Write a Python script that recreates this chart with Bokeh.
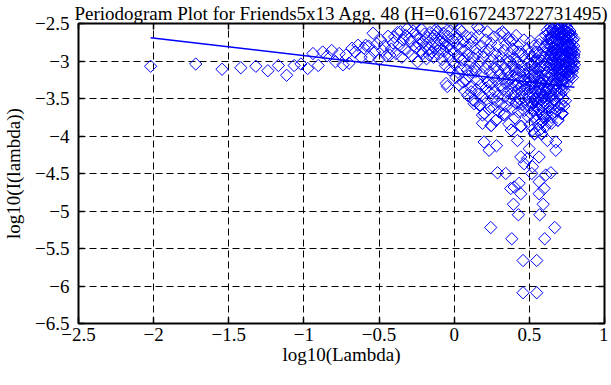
import math
from bokeh.plotting import figure
from bokeh.models import Range1d, FixedTicker, LinearAxis
from bokeh.embed import file_html
from bokeh.resources import INLINE

title_text = "Periodogram Plot for Friends5x13 Agg. 48 (H=0.6167243722731495)"
x_label = "log10(Lambda)"
y_label = "log10(I(lambda))"

x_ticks = [-2.5, -2, -1.5, -1, -0.5, 0, 0.5, 1]
x_tick_labels = ["\u22122.5", "\u22122", "\u22121.5", "\u22121", "\u22120.5", "0", "0.5", "1"]
y_ticks = [-6.5, -6, -5.5, -5, -4.5, -4, -3.5, -3, -2.5]
y_tick_labels = ["\u22126.5", "\u22126", "\u22125.5", "\u22125", "\u22124.5", "\u22124", "\u22123.5", "\u22123", "\u22122.5"]

# low frequencies (sparse part, x < 0)
low_x = [-2.02, -1.72, -1.545, -1.42, -1.32, -1.24, -1.17, -1.115, -1.065, -1.02,
         -0.975, -0.94, -0.905, -0.875, -0.845, -0.815, -0.79, -0.765, -0.74, -0.72,
         -0.70, -0.68, -0.66, -0.64, -0.62, -0.60, -0.589,
         -0.57, -0.56, -0.54, -0.53, -0.515, -0.50, -0.49, -0.476, -0.464, -0.452,
         -0.44, -0.429, -0.418, -0.407, -0.397, -0.387, -0.377, -0.367, -0.358, -0.349,
         -0.339, -0.331, -0.322, -0.313, -0.305, -0.297, -0.289, -0.281, -0.273, -0.266,
         -0.258, -0.251, -0.244, -0.237, -0.23, -0.223, -0.216, -0.209, -0.203, -0.197,
         -0.19, -0.184, -0.178, -0.172, -0.166, -0.16, -0.154, -0.149, -0.143, -0.137,
         -0.132, -0.127, -0.121, -0.116, -0.111, -0.106, -0.101, -0.096, -0.091, -0.086,
         -0.081, -0.077, -0.072, -0.068, -0.063, -0.059, -0.054, -0.05, -0.046, -0.041,
         -0.037, -0.033, -0.029, -0.025, -0.021, -0.017, -0.013, -0.009]
low_y = [-3.07, -3.04, -3.11, -3.09, -3.07, -3.13, -3.06, -3.19, -3.06, -3.04,
         -3.10, -2.90, -3.06, -2.88, -2.93, -2.86, -3.01, -2.90, -3.05, -2.92,
         -3.03, -2.83, -2.88, -2.79, -2.95, -2.83, -2.79,
         -2.80, -2.95, -2.63, -2.88, -2.77, -2.98, -2.72, -2.86, -2.80, -2.93,
         -2.67, -2.92, -2.84, -2.76, -2.68, -2.90, -2.62, -2.79, -2.61, -2.95,
         -2.72, -2.84, -2.66, -2.57, -2.88, -2.70, -2.74, -2.93, -2.60, -2.50,
         -2.82, -2.66, -3.01, -2.77, -2.70, -2.86, -2.58, -2.90, -2.74, -2.64,
         -2.81, -2.97, -2.69, -2.85, -2.92, -2.62, -2.78, -2.88, -2.70, -2.95,
         -2.66, -2.83, -2.58, -2.76, -2.61, -2.91, -2.72, -2.84, -2.52, -2.69,
         -2.98, -2.77, -2.63, -2.87, -2.74, -3.06, -3.30, -2.81, -3.34, -2.67,
         -2.93, -2.79, -3.12, -2.60, -2.85, -3.00, -2.50, -2.72]

# middle frequencies (0 <= x < 0.5)
mid_x = [0.000, 0.004, 0.008, 0.012, 0.017, 0.021, 0.025, 0.029, 0.033, 0.037,
         0.041, 0.045, 0.049, 0.053, 0.057, 0.061, 0.066, 0.070, 0.074, 0.078,
         0.082, 0.086, 0.090, 0.094, 0.098, 0.102, 0.106, 0.110, 0.114, 0.118,
         0.121, 0.125, 0.129, 0.133, 0.137, 0.141, 0.144, 0.148, 0.152, 0.156,
         0.160, 0.163, 0.166, 0.170, 0.174, 0.177, 0.181, 0.185, 0.188, 0.192,
         0.195, 0.199, 0.202, 0.206, 0.210, 0.213, 0.216, 0.220, 0.223, 0.226,
         0.230, 0.233, 0.236, 0.240, 0.243, 0.246, 0.249, 0.253, 0.256, 0.259,
         0.262, 0.265, 0.268, 0.271, 0.274, 0.278, 0.281, 0.284, 0.287, 0.290,
         0.293, 0.296, 0.299, 0.302, 0.305, 0.308, 0.311, 0.314, 0.317, 0.321,
         0.324, 0.327, 0.330, 0.333, 0.336, 0.339, 0.342, 0.345, 0.348, 0.351,
         0.354, 0.357, 0.360, 0.363, 0.366, 0.369, 0.372, 0.376, 0.379, 0.382,
         0.385, 0.388, 0.391, 0.394, 0.397, 0.400, 0.403, 0.406, 0.409, 0.412,
         0.415, 0.418, 0.421, 0.424, 0.427, 0.430, 0.433, 0.436, 0.439, 0.442,
         0.443, 0.446, 0.449, 0.452, 0.455, 0.458, 0.461, 0.464, 0.467, 0.470,
         0.473, 0.476, 0.479, 0.482, 0.485, 0.488, 0.491, 0.494, 0.497,
         0.155, 0.330, 0.388, 0.113, 0.135, 0.168, 0.201, 0.279, 0.335]
mid_y = [-2.88, -3.05, -2.64, -3.22, -2.79, -2.70, -3.15, -2.95, -3.32, -2.58,
         -2.84, -3.10, -2.61, -2.99, -3.28, -2.74, -2.97, -3.40, -2.86, -3.26,
         -2.67, -3.12, -3.46, -2.92, -3.20, -2.78, -3.02, -3.35, -2.69, -3.14,
         -2.74, -3.52, -2.96, -3.57, -3.08, -2.83, -3.14, -3.38, -2.90, -3.25,
         -2.66, -3.44, -2.57, -3.02, -3.59, -3.32, -2.80, -3.18, -3.72, -2.95,
         -3.48, -2.88, -3.70, -3.10, -2.72, -3.36, -3.55, -2.61, -3.04, -3.28,
         -3.64, -2.85, -3.42, -3.15, -2.76, -3.86, -3.30, -2.98, -3.50, -3.22,
         -2.68, -3.62, -3.08, -3.40, -2.90, -3.79, -3.26, -3.54, -2.80, -3.12,
         -3.46, -3.00, -3.68, -2.64, -3.33, -3.18, -2.94, -3.58, -3.05, -2.61,
         -3.38, -3.24, -2.86, -3.72, -3.48, -3.10, -2.78, -3.30, -3.60, -2.98,
         -3.42, -3.16, -2.70, -3.84, -3.26, -3.52, -2.90, -2.74, -3.92, -3.36,
         -3.06, -3.64, -2.84, -3.20, -3.46, -2.96, -3.76, -3.12, -3.32, -2.66,
         -3.56, -3.02, -3.40, -2.88, -3.68, -3.22, -3.50, -2.78, -3.14, -3.87,
         -2.88, -3.34, -3.06, -3.58, -2.92, -3.26, -3.44, -2.72, -3.66, -3.18,
         -3.38, -2.98, -3.52, -3.10, -2.84, -3.30, -3.74, -3.02, -3.46,
         -2.54, -2.63, -2.72, -3.41, -3.53, -3.59, -3.70, -3.79, -3.70]

# high frequencies (dense cluster, x >= 0.5)
high_x = [0.50, 0.50, 0.50, 0.505, 0.505, 0.51, 0.51, 0.51, 0.515, 0.515,
          0.52, 0.52, 0.52, 0.525, 0.525, 0.53, 0.53, 0.53, 0.535, 0.535, 0.535,
          0.54, 0.54, 0.54, 0.545, 0.545, 0.545, 0.55, 0.55, 0.55,
          0.555, 0.555, 0.555, 0.56, 0.56, 0.56, 0.565, 0.565, 0.565,
          0.57, 0.57, 0.57, 0.575, 0.575, 0.575, 0.58, 0.58, 0.58, 0.58,
          0.585, 0.585, 0.585, 0.59, 0.59, 0.59, 0.595, 0.595, 0.595,
          0.60, 0.60, 0.60, 0.605, 0.605, 0.605, 0.61, 0.61, 0.61,
          0.615, 0.615, 0.615, 0.62, 0.62, 0.62, 0.62, 0.625, 0.625, 0.625,
          0.63, 0.63, 0.63, 0.63, 0.635, 0.635, 0.635, 0.64, 0.64, 0.64, 0.64,
          0.645, 0.645, 0.645, 0.65, 0.65, 0.65, 0.65, 0.655, 0.655, 0.655,
          0.66, 0.66, 0.66, 0.66, 0.665, 0.665, 0.665, 0.67, 0.67, 0.67, 0.67,
          0.675, 0.675, 0.675, 0.68, 0.68, 0.68, 0.68, 0.685, 0.685, 0.685,
          0.69, 0.69, 0.69, 0.69, 0.695, 0.695, 0.695, 0.70, 0.70, 0.70, 0.70,
          0.705, 0.705, 0.705, 0.71, 0.71, 0.71, 0.71, 0.715, 0.715, 0.715,
          0.72, 0.72, 0.72, 0.72, 0.725, 0.725, 0.725, 0.73, 0.73, 0.73, 0.73,
          0.735, 0.735, 0.735, 0.74, 0.74, 0.74, 0.74, 0.745, 0.745, 0.745,
          0.75, 0.75, 0.75, 0.75, 0.755, 0.755, 0.755, 0.76, 0.76, 0.76, 0.76,
          0.765, 0.765, 0.765, 0.77, 0.77, 0.77, 0.77, 0.775, 0.775, 0.775,
          0.78, 0.78, 0.78, 0.785, 0.785, 0.785, 0.79, 0.79, 0.79,
          0.795, 0.795, 0.80, 0.80]
high_y = [-3.15, -3.62, -2.90, -3.40, -3.85, -2.74, -3.25, -3.70, -3.05, -3.55,
          -3.30, -3.92, -2.95, -3.48, -3.12, -2.80, -3.66, -3.35, -3.02, -3.97, -3.20,
          -3.50, -2.88, -3.78, -3.28, -3.10, -3.60, -2.98, -3.72, -3.42,
          -2.88, -3.18, -3.55, -3.36, -3.85, -3.00, -3.22, -2.78, -3.64,
          -3.45, -3.08, -3.92, -2.92, -3.30, -3.70, -3.52, -3.15, -3.97, -2.70,
          -3.38, -3.00, -3.80, -2.85, -3.25, -3.60, -3.10, -3.48, -3.75,
          -2.95, -3.35, -3.62, -3.20, -2.80, -3.88, -3.05, -3.42, -2.66,
          -3.28, -3.70, -2.90, -2.59, -3.15, -3.55, -2.75, -3.00, -3.38, -2.85,
          -2.70, -3.22, -3.82, -3.48, -2.62, -2.95, -3.10, -3.30, -2.80, -3.62, -2.55,
          -3.05, -3.45, -2.68, -2.88, -3.18, -2.58, -3.75, -3.35, -2.75, -3.00,
          -2.62, -3.12, -3.52, -2.92, -2.82, -3.25, -2.55, -3.05, -2.70, -3.40, -3.68,
          -2.60, -2.95, -3.18, -2.52, -2.85, -3.30, -3.08, -2.72, -3.00, -3.48,
          -2.58, -2.90, -3.22, -3.79, -2.78, -3.10, -2.65, -2.50, -2.95, -3.35, -3.05,
          -2.68, -2.85, -3.20, -2.55, -3.00, -2.75, -3.58, -2.62, -3.12, -2.90,
          -2.48, -2.80, -3.28, -3.70, -2.70, -2.98, -2.58, -2.47, -2.85, -3.15, -3.39,
          -2.60, -2.92, -3.05, -2.52, -2.75, -3.22, -3.53, -2.66, -3.00, -2.85,
          -2.55, -2.80, -3.10, -3.30, -2.62, -2.95, -2.72, -2.58, -2.88, -3.18, -3.05,
          -2.68, -2.80, -3.00, -2.60, -2.92, -3.12, -2.75, -2.70, -2.85, -3.20,
          -2.65, -2.98, -3.08, -2.78, -2.90, -3.15, -2.72, -3.02, -2.85,
          -2.80, -2.95, -2.88, -3.05]

# more points inside the densest parts of the cloud
dense_x = [0.642, 0.652, 0.662, 0.672, 0.682, 0.692, 0.702, 0.712, 0.722, 0.732, 0.742, 0.752, 0.762, 0.772, 0.782, 0.792,
           0.647, 0.657, 0.667, 0.677, 0.687, 0.697, 0.707, 0.717, 0.727, 0.737, 0.747, 0.757, 0.767, 0.777, 0.787, 0.797,
           0.36, 0.38, 0.40, 0.42, 0.44, 0.46, 0.48, 0.50, 0.52, 0.54, 0.56, 0.58, 0.60,
           0.37, 0.39, 0.41, 0.43, 0.45, 0.47, 0.49, 0.51, 0.53, 0.55, 0.57, 0.59, 0.61]
dense_y = [-2.70, -2.98, -2.64, -3.14, -2.77, -3.02, -2.62, -3.26, -2.92, -2.68, -3.08, -2.88, -3.22, -2.66, -2.84, -3.10,
           -3.20, -2.84, -3.32, -2.90, -3.12, -2.56, -3.16, -2.84, -3.06, -3.24, -2.70, -3.00, -2.63, -3.04, -3.22, -2.92,
           -3.22, -3.44, -3.08, -3.30, -3.52, -3.14, -3.36, -3.24, -3.58, -3.40, -3.12, -3.30, -3.46,
           -3.00, -3.28, -3.56, -3.12, -3.42, -3.26, -3.58, -3.34, -3.18, -3.50, -3.26, -3.06, -3.40]

blob_x = [0.645, 0.655, 0.665, 0.675, 0.685, 0.695, 0.705, 0.715, 0.725, 0.735, 0.745, 0.755, 0.765, 0.775, 0.785, 0.795,
          0.648, 0.658, 0.668, 0.678, 0.688, 0.698, 0.708, 0.718, 0.728, 0.738, 0.748, 0.758, 0.768, 0.778, 0.788,
          0.56, 0.575, 0.59, 0.605, 0.62, 0.635, 0.65, 0.665, 0.68, 0.695, 0.71, 0.725,
          0.565, 0.58, 0.595, 0.61, 0.625, 0.64, 0.655, 0.67, 0.685, 0.70, 0.715, 0.73]
blob_y = [-2.92, -2.60, -3.02, -2.74, -3.26, -2.86, -3.10, -2.70, -3.32, -2.80, -2.60, -3.14, -2.78, -2.96, -3.10, -2.70,
          -2.76, -3.24, -2.86, -3.06, -2.64, -3.20, -2.92, -3.12, -2.64, -2.96, -3.16, -2.78, -3.08, -2.90, -3.00,
          -3.64, -3.42, -3.70, -3.52, -3.36, -3.66, -3.46, -3.58, -3.40, -3.62, -3.44, -3.50,
          -3.34, -3.82, -3.54, -3.76, -3.60, -3.40, -3.70, -3.52, -3.66, -3.46, -3.38, -3.60]

# low-lying outliers
tail_x = [0.199, 0.232, 0.281, 0.421, 0.443, 0.465, 0.487, 0.499, 0.516, 0.521,
          0.565, 0.620, 0.676, 0.676, 0.288, 0.343, 0.643, 0.609, 0.376, 0.399,
          0.432, 0.443, 0.565, 0.598, 0.565, 0.394, 0.427, 0.592, 0.569, 0.243,
          0.383, 0.602, 0.669, 0.458, 0.549, 0.458, 0.549,
          0.188, 0.246, 0.379, 0.447, 0.534, 0.580, 0.647, 0.690, 0.713]
tail_y = [-4.08, -4.19, -4.13, -4.06, -4.28, -4.37, -4.30, -4.17, -4.50, -4.41,
          -4.28, -4.06, -4.08, -4.19, -4.49, -4.50, -4.49, -4.52, -4.70, -4.68,
          -4.63, -4.77, -4.61, -4.70, -4.77, -4.91, -5.05, -4.91, -5.05, -5.22,
          -5.37, -5.37, -5.22, -5.66, -5.66, -6.09, -6.09,
          -3.83, -3.86, -3.92, -3.87, -3.97, -3.97, -3.83, -3.79, -3.70]

# least-squares fit line
fit_x = [-2.02, 0.80]
fit_y = [-2.69, -3.35]

all_x = low_x + mid_x + high_x + dense_x + blob_x + tail_x
all_y = low_y + mid_y + high_y + dense_y + blob_y + tail_y

FONT = "Liberation Serif"

p = figure(frame_width=526, frame_height=300, output_backend="svg", toolbar_location=None,
           x_range=Range1d(-2.5, 1), y_range=Range1d(-6.5, -2.5),
           min_border_left=73, min_border_right=4, min_border_top=22, min_border_bottom=47)
p.background_fill_color = "white"
p.border_fill_color = "white"
p.outline_line_color = "black"
p.outline_line_width = 2

p.title.text = title_text
p.title.align = "center"
p.title.text_font = FONT
p.title.text_font_size = "19px"
p.title.text_font_style = "normal"
p.title.text_color = "black"
p.title.standoff = 0
p.title.offset = 0

for ax, ticks, labels in ((p.xaxis[0], x_ticks, x_tick_labels), (p.yaxis[0], y_ticks, y_tick_labels)):
    ax.ticker = FixedTicker(ticks=ticks)
    ax.major_label_overrides = {t: l for t, l in zip(ticks, labels)}
    ax.major_label_text_font = FONT
    ax.major_label_text_font_size = "19px"
    ax.major_label_text_color = "black"
    ax.axis_label_text_font = FONT
    ax.axis_label_text_font_size = "19px"
    ax.axis_label_text_font_style = "normal"
    ax.axis_label_text_color = "black"
    ax.axis_line_color = None
    ax.major_tick_in = 6
    ax.major_tick_out = 0
    ax.major_tick_line_color = "black"
    ax.major_tick_line_width = 1.5
    ax.minor_tick_line_color = None

p.xaxis[0].axis_label = x_label
p.yaxis[0].axis_label = y_label
p.xaxis[0].major_label_standoff = 4
p.xaxis[0].axis_label_standoff = 0
p.yaxis[0].major_label_standoff = 9
p.yaxis[0].axis_label_standoff = 8

for loc, ticks in (("above", x_ticks), ("right", y_ticks)):
    ax = LinearAxis(ticker=FixedTicker(ticks=ticks))
    ax.major_label_text_color = None
    ax.major_label_text_alpha = 0
    ax.major_label_standoff = 0
    ax.axis_line_color = None
    ax.major_tick_in = 6
    ax.major_tick_out = 0
    ax.major_tick_line_color = "black"
    ax.major_tick_line_width = 1.5
    ax.minor_tick_line_color = None
    p.add_layout(ax, loc)

p.xgrid.ticker = FixedTicker(ticks=x_ticks)
p.ygrid.ticker = FixedTicker(ticks=y_ticks)
for g in (p.xgrid[0], p.ygrid[0]):
    g.grid_line_color = "black"
    g.grid_line_dash = "7 4"
    g.grid_line_width = 1

p.scatter(all_x, all_y, marker="square", angle=math.pi / 4, size=8.7,
          fill_color=None, line_color="#0000ff", line_width=1)
p.line(fit_x, fit_y, line_color="#0000ff", line_width=1.5)

open("out.html", "w").write(file_html(p, INLINE))
